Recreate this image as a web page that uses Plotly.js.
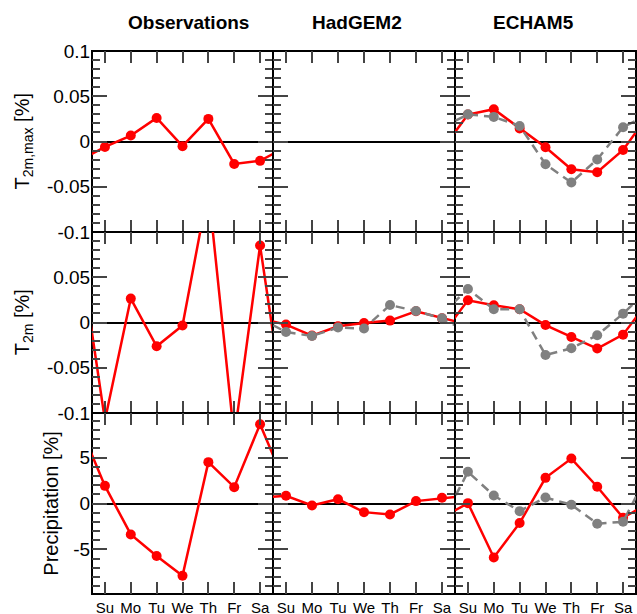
<!DOCTYPE html>
<html>
<head>
<meta charset="utf-8">
<script src="https://cdn.plot.ly/plotly-3.0.1.min.js"></script>
<style>
html,body{margin:0;padding:0;background:#fff;overflow:hidden;}
#wrap{position:relative;width:637px;height:614px;overflow:hidden;}
#bg{position:absolute;left:0;top:0;width:637px;height:614px;}
.panel{position:absolute;}
</style>
</head>
<body>
<div id="wrap"><div id="bg"></div></div>
<script>
// ---- data ----
const days = ['Su', 'Mo', 'Tu', 'We', 'Th', 'Fr', 'Sa'];
const columnTitles = ['Observations', 'HadGEM2', 'ECHAM5'];
const rowTitles = ['T<sub>2m,max</sub> [%]', 'T<sub>2m</sub> [%]', 'Precipitation [%]'];

const tmaxObs      = [-0.006, 0.0066, 0.026, -0.0052, 0.025, -0.0248, -0.0214];
const tmaxEchRed   = [0.0298, 0.0357, 0.0144, -0.0063, -0.0306, -0.0339, -0.0093];
const tmaxEchGray  = [0.030, 0.0272, 0.0172, -0.0251, -0.0453, -0.0199, 0.0158];

const t2mObs       = [-0.108, 0.0264, -0.0263, -0.0034, 0.148, -0.127, 0.085];
const t2mHadRed    = [-0.0023, -0.0145, -0.0042, -0.0005, 0.0021, 0.0124, 0.0046];
const t2mHadGray   = [-0.0105, -0.0149, -0.0056, -0.0067, 0.0193, 0.0127, 0.0046];
const t2mEchRed    = [0.0245, 0.019, 0.0146, -0.0028, -0.016, -0.0288, -0.0134];
const t2mEchGray   = [0.037, 0.0146, 0.0146, -0.0359, -0.0285, -0.0141, 0.0098];

const precObs      = [1.92, -3.37, -5.72, -7.86, 4.5, 1.78, 8.63];
const precHadRed   = [0.84, -0.21, 0.47, -0.94, -1.19, 0.26, 0.62];
const precEchRed   = [0.04, -5.87, -2.13, 2.79, 4.89, 1.82, -1.55];
const precEchGray  = [3.45, 0.87, -0.83, 0.65, -0.14, -2.2, -1.99];

const panels = [
  [[{y: tmaxObs, c: 'red'}], [], [{y: tmaxEchRed, c: 'red'}, {y: tmaxEchGray, c: 'gray'}]],
  [[{y: t2mObs, c: 'red'}], [{y: t2mHadRed, c: 'red'}, {y: t2mHadGray, c: 'gray'}], [{y: t2mEchRed, c: 'red'}, {y: t2mEchGray, c: 'gray'}]],
  [[{y: precObs, c: 'red'}], [{y: precHadRed, c: 'red'}], [{y: precEchRed, c: 'red'}, {y: precEchGray, c: 'gray'}]]
];

// ---- layout geometry (pixels) ----
const W = 637, H = 614;
const colX = [[92, 273], [273, 455], [455, 636]];
const rowY = [[51, 232], [232, 413], [413, 594]];
const FONT = 'Liberation Sans, Arial, sans-serif';
const TICKC = '#444';
const cfg = {displayModeBar: false};

const dayIdx = days.map((d, i) => i);
const dayAlias = {};
days.forEach((d, i) => { dayAlias[String(i)] = d; });
const minusAlias = {'\u22120.1': '-0.1', '\u22120.05': '-0.05', '\u22125': '-5', '\u221210': '-10'};
function wrapX() { return [-1].concat(dayIdx, [days.length]); }
function wrapY(a) { return [a[a.length - 1]].concat(a, [a[0]]); }

// ---- background figure: titles + outer frame ----
const annotations = [];
const titleX = [188.3, 356.7, 533.3];
columnTitles.forEach((t, i) => {
  annotations.push({
    text: '<b>' + t + '</b>', xref: 'paper', yref: 'paper',
    x: titleX[i] / W, y: (H - 22) / H, xanchor: 'center', yanchor: 'middle',
    showarrow: false, font: {family: FONT, size: 19, color: 'black'}
  });
});
const rowLabelX = [23, 23, 51];
const rowLabelY = [141.5, 322.2, 503.7];
rowTitles.forEach((t, i) => {
  annotations.push({
    text: t, xref: 'paper', yref: 'paper',
    x: rowLabelX[i] / W, y: (H - rowLabelY[i]) / H, xanchor: 'center', yanchor: 'middle',
    textangle: -90, showarrow: false, font: {family: FONT, size: 20, color: 'black'}
  });
});
Plotly.newPlot('bg', [], {
  width: W, height: H, margin: {l: 0, r: 0, t: 0, b: 0},
  showlegend: false,
  xaxis: {visible: false, range: [0, 1]}, yaxis: {visible: false, range: [0, 1]},
  annotations: annotations,
  shapes: [{
    type: 'rect', xref: 'paper', yref: 'paper', layer: 'above',
    x0: colX[0][0] / W, x1: colX[2][1] / W,
    y0: (H - rowY[2][1]) / H, y1: (H - rowY[0][0]) / H,
    line: {color: 'black', width: 2}
  }]
}, cfg);

// ---- one small figure per panel ----
const wrap = document.getElementById('wrap');
for (let r = 0; r < 3; r++) {
  for (let c = 0; c < 3; c++) {
    const isPrec = r === 2;
    const ml = 70, mr = 8, mt = 12, mb = r === 2 ? 20 : 12;
    const pw = colX[c][1] - colX[c][0], ph = rowY[r][1] - rowY[r][0];
    const div = document.createElement('div');
    div.className = 'panel';
    div.style.left = (colX[c][0] - ml) + 'px';
    div.style.top = (rowY[r][0] - mt) + 'px';
    div.style.width = (pw + ml + mr) + 'px';
    div.style.height = (ph + mt + mb) + 'px';
    wrap.appendChild(div);

    const traces = panels[r][c].map(s => {
      const red = s.c === 'red';
      return {
        x: wrapX(), y: wrapY(s.y), mode: 'lines+markers',
        line: {color: red ? '#ff0000' : '#808080', width: 2.5, dash: red ? 'solid' : '9px,6px'},
        marker: {color: red ? '#ff0000' : '#808080', size: 10}
      };
    });

    const yAlias = Object.assign({}, minusAlias);
    if (r === 1) yAlias['0.1'] = ' ';

    const layout = {
      width: pw + ml + mr, height: ph + mt + mb,
      margin: {l: ml, r: mr, t: mt, b: mb},
      paper_bgcolor: 'rgba(255,255,255,0)', plot_bgcolor: 'rgba(255,255,255,0)',
      showlegend: false,
      xaxis: {
        range: [-0.5, 6.5],
        showline: true, linecolor: 'black', linewidth: 1, mirror: 'allticks',
        ticks: 'inside', ticklen: 12, tickwidth: 1.5, tickcolor: TICKC,
        tickmode: 'linear', tick0: 0, dtick: 1, labelalias: dayAlias,
        showticklabels: r === 2,
        tickfont: {family: FONT, size: 15, color: 'black'},
        zeroline: false, showgrid: false
      },
      yaxis: {
        range: isPrec ? [-9.85, 9.85] : [-0.1, 0.1],
        showline: true, linecolor: 'black', linewidth: 1, mirror: 'allticks',
        ticks: 'inside', ticklen: 15, tickwidth: 1.5, tickcolor: TICKC,
        tickmode: 'linear', tick0: 0, dtick: isPrec ? 5 : 0.05, labelalias: yAlias,
        showticklabels: c === 0,
        ticklabelstandoff: -3,
        tickfont: {family: FONT, size: 19, color: 'black'},
        minor: {ticks: 'inside', ticklen: 8, tickwidth: 1.5, tickcolor: TICKC, dtick: isPrec ? 1 : 0.01},
        zeroline: true, zerolinecolor: 'black', zerolinewidth: 1.5,
        showgrid: false
      }
    };
    Plotly.newPlot(div, traces, layout, cfg);
  }
}
</script>
</body>
</html>
